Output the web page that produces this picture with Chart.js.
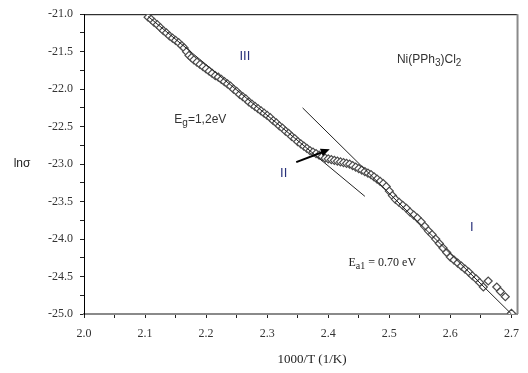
<!DOCTYPE html>
<html>
<head>
<meta charset="utf-8">
<script src="https://cdn.jsdelivr.net/npm/chart.js@4/dist/chart.umd.min.js"></script>
<style>
  html, body { margin: 0; padding: 0; background: #fff; }
  canvas { display: block; }
</style>
</head>
<body>
<canvas id="arrhenius" width="528" height="373"></canvas>
<script>
// Messpunkte ln(sigma) gegen 1000/T
const invT = [
  2.105, 2.110, 2.115, 2.120, 2.125, 2.130, 2.135, 2.140, 2.145, 2.150,
  2.155, 2.160, 2.164, 2.168, 2.172, 2.176, 2.180, 2.185, 2.190, 2.195,
  2.200, 2.205, 2.210, 2.215, 2.220, 2.225, 2.230, 2.235, 2.240, 2.245,
  2.250, 2.255, 2.260, 2.265, 2.270, 2.275, 2.280, 2.285, 2.290, 2.295,
  2.300, 2.305, 2.310, 2.315, 2.320, 2.325, 2.330, 2.335, 2.340, 2.345,
  2.350, 2.355, 2.360, 2.365, 2.370, 2.375, 2.380, 2.385, 2.390, 2.395,
  2.400, 2.405, 2.410, 2.415, 2.420, 2.425, 2.430, 2.435, 2.440, 2.445,
  2.450, 2.455, 2.460, 2.465, 2.470, 2.475, 2.480, 2.485, 2.490, 2.495,
  2.500, 2.505, 2.510, 2.516, 2.522, 2.528, 2.534, 2.540, 2.546, 2.552,
  2.558, 2.564, 2.570, 2.576, 2.582, 2.588, 2.594, 2.600, 2.606, 2.612,
  2.618, 2.624, 2.630, 2.636, 2.642, 2.648, 2.654, 2.662, 2.676, 2.682,
  2.690, 2.700
];
const lnSigma = [
  -21.04, -21.07, -21.11, -21.14, -21.18, -21.22, -21.25, -21.29, -21.32, -21.35,
  -21.38, -21.42, -21.45, -21.50, -21.55, -21.58, -21.61, -21.64, -21.67, -21.70,
  -21.73, -21.76, -21.79, -21.82, -21.84, -21.87, -21.90, -21.93, -21.96, -22.00,
  -22.03, -22.07, -22.10, -22.13, -22.17, -22.20, -22.23, -22.26, -22.29, -22.32,
  -22.35, -22.38, -22.42, -22.45, -22.49, -22.52, -22.56, -22.59, -22.63, -22.66,
  -22.70, -22.73, -22.76, -22.79, -22.82, -22.84, -22.86, -22.88, -22.90, -22.92,
  -22.93, -22.94, -22.95, -22.96, -22.97, -22.98, -22.99, -23.00, -23.02, -23.04,
  -23.06, -23.08, -23.10, -23.12, -23.14, -23.17, -23.20, -23.23, -23.26, -23.30,
  -23.36, -23.42, -23.47, -23.51, -23.55, -23.59, -23.64, -23.68, -23.72, -23.77,
  -23.83, -23.89, -23.94, -24.00, -24.06, -24.12, -24.18, -24.24, -24.28, -24.32,
  -24.36, -24.40, -24.44, -24.49, -24.53, -24.58, -24.64, -24.56, -24.64, -24.70,
  -24.77, -24.99
];

// Fit-Geraden (Anfang / Ende)
const fitIX = [2.358, 2.700];
const fitIY = [-22.25, -25.00];
const fitIIIX = [2.105, 2.460];
const fitIIIY = [-21.03, -23.43];

// Achsen
const xTicks = [2.00, 2.05, 2.10, 2.15, 2.20, 2.25, 2.30, 2.35, 2.40, 2.45, 2.50, 2.55, 2.60, 2.65, 2.70];
const xMin = 2.0, xMax = 2.71;
const yMin = -25.0, yMax = -21.0, yStep = 0.25;

const toPts = (xs, ys) => xs.map((x, i) => ({ x: x, y: ys[i] }));
const isMult = (v, m) => Math.abs(v / m - Math.round(v / m)) < 1e-6;

// Beschriftungen im Diagramm (Datenkoordinaten)
const notes = [
  { x: 2.2635, y: -21.566, parts: [["III"]], font: "13px 'Liberation Sans', Arial", color: "#27307a", align: "center" },
  { x: 2.327, y: -23.12, parts: [["II"]], font: "13px 'Liberation Sans', Arial", color: "#27307a", align: "center" },
  { x: 2.635, y: -23.84, parts: [["I"]], font: "13px 'Liberation Sans', Arial", color: "#27307a", align: "center" },
  { x: 2.5125, y: -21.605, parts: [["Ni(PPh"], ["3", "sub"], [")Cl"], ["2", "sub"]], font: "12px 'Liberation Sans', Arial", color: "#333", align: "left" },
  { x: 2.148, y: -22.408, parts: [["E"], ["g", "sub"], ["=1,2eV"]], font: "12px 'Liberation Sans', Arial", color: "#333", align: "left" },
  { x: 2.4332, y: -24.316, parts: [["E"], ["a1", "sub"], [" = 0.70 eV"]], font: "12px 'Liberation Serif', 'Times New Roman'", color: "#222", align: "left" }
];
const arrowFrom = [2.3476, -22.974];
const arrowTo = [2.4025, -22.803];

function drawParts(ctx, note, px, py) {
  ctx.font = note.font;
  const subFont = note.font.replace(/^\d+px/, "10px");
  let width = 0;
  note.parts.forEach(p => {
    ctx.font = p[1] ? subFont : note.font;
    width += ctx.measureText(p[0]).width;
  });
  let cx = note.align === "center" ? px - width / 2 : px;
  ctx.fillStyle = note.color;
  ctx.textBaseline = "middle";
  ctx.textAlign = "left";
  note.parts.forEach(p => {
    ctx.font = p[1] ? subFont : note.font;
    ctx.fillText(p[0], cx, p[1] ? py + 3.5 : py);
    cx += ctx.measureText(p[0]).width;
  });
}

const decorPlugin = {
  id: "decor",
  beforeDatasetsDraw(chart) {
    const { ctx, chartArea: a } = chart;
    ctx.save();
    // oberer Rahmen schwarz, rechter Rahmen grau
    ctx.strokeStyle = "#000";
    ctx.lineWidth = 1;
    ctx.beginPath();
    ctx.moveTo(a.left, a.top + 0.5);
    ctx.lineTo(a.right, a.top + 0.5);
    ctx.stroke();
    ctx.strokeStyle = "#8a8a8a";
    ctx.lineWidth = 2;
    ctx.beginPath();
    ctx.moveTo(a.right, a.top);
    ctx.lineTo(a.right, a.bottom);
    ctx.stroke();
    ctx.restore();
  },
  afterDraw(chart) {
    const { ctx, chartArea: a, scales } = chart;
    const sx = scales.x, sy = scales.y;
    ctx.save();
    notes.forEach(n => drawParts(ctx, n, sx.getPixelForValue(n.x), sy.getPixelForValue(n.y)));

    // Pfeil
    const x1 = sx.getPixelForValue(arrowFrom[0]), y1 = sy.getPixelForValue(arrowFrom[1]);
    const x2 = sx.getPixelForValue(arrowTo[0]), y2 = sy.getPixelForValue(arrowTo[1]);
    const ang = Math.atan2(y2 - y1, x2 - x1);
    ctx.strokeStyle = "#000";
    ctx.fillStyle = "#000";
    ctx.lineWidth = 2;
    ctx.beginPath();
    ctx.moveTo(x1, y1);
    ctx.lineTo(x2 - 6 * Math.cos(ang), y2 - 6 * Math.sin(ang));
    ctx.stroke();
    ctx.beginPath();
    ctx.moveTo(x2, y2);
    ctx.lineTo(x2 - 9 * Math.cos(ang) + 4 * Math.sin(ang), y2 - 9 * Math.sin(ang) - 4 * Math.cos(ang));
    ctx.lineTo(x2 - 9 * Math.cos(ang) - 4 * Math.sin(ang), y2 - 9 * Math.sin(ang) + 4 * Math.cos(ang));
    ctx.closePath();
    ctx.fill();

    // Achsentitel
    ctx.fillStyle = "#222";
    ctx.textBaseline = "middle";
    ctx.textAlign = "center";
    ctx.font = "12px 'Liberation Sans', Arial";
    ctx.fillText("lnσ", 22, (a.top + a.bottom) / 2);
    ctx.font = "13px 'Liberation Serif', 'Times New Roman'";
    ctx.fillText("1000/T (1/K)", 312, 360);
    ctx.restore();
  }
};

new Chart(document.getElementById("arrhenius"), {
  type: "scatter",
  data: {
    datasets: [
      {
        label: "Ea1",
        data: toPts(fitIX, fitIY),
        showLine: true,
        borderColor: "#222",
        borderWidth: 1,
        pointRadius: 0,
        order: 0
      },
      {
        label: "Eg",
        data: toPts(fitIIIX, fitIIIY),
        showLine: true,
        borderColor: "#222",
        borderWidth: 1,
        pointRadius: 0,
        order: 1
      },
      {
        label: "ln sigma",
        data: toPts(invT, lnSigma),
        showLine: false,
        pointStyle: "rectRot",
        pointRadius: 4,
        pointBorderWidth: 1.2,
        pointBorderColor: "#4a4a4a",
        pointBackgroundColor: "#fff",
        order: 2
      }
    ]
  },
  options: {
    responsive: false,
    animation: false,
    layout: { padding: { top: 10, right: 4, left: 0, bottom: 0 } },
    plugins: { legend: { display: false }, tooltip: { enabled: false } },
    scales: {
      x: {
        type: "linear",
        min: xMin,
        max: xMax,
        afterBuildTicks: s => { s.ticks = xTicks.map(v => ({ value: v })); },
        afterFit: s => { s.height = 59; },
        border: { color: "#8a8a8a", width: 2 },
        grid: { drawOnChartArea: false, tickLength: 4, color: "#222" },
        ticks: {
          autoSkip: false,
          maxRotation: 0,
          padding: 9,
          color: "#333",
          font: { family: "'Liberation Serif', 'Times New Roman'", size: 12 },
          callback: v => isMult(v, 0.1) ? v.toFixed(1) : ""
        }
      },
      y: {
        type: "linear",
        min: yMin,
        max: yMax,
        afterFit: s => { s.width = 84; },
        border: { color: "#000", width: 1 },
        grid: { drawOnChartArea: false, tickLength: 4, color: "#222" },
        ticks: {
          stepSize: yStep,
          padding: 7,
          color: "#333",
          font: { family: "'Liberation Serif', 'Times New Roman'", size: 12 },
          callback: v => isMult(v, 0.5) ? v.toFixed(1) : ""
        }
      }
    }
  },
  plugins: [decorPlugin]
});
</script>
</body>
</html>
